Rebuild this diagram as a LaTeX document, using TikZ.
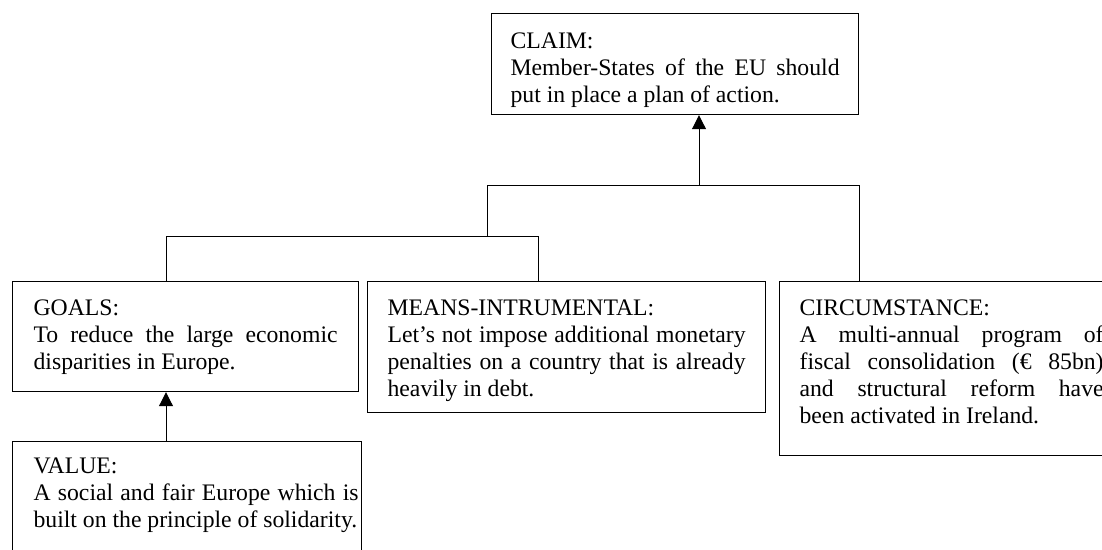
\documentclass[tikz,border=0pt]{standalone}
\usepackage{fontspec}
\setmainfont{Liberation Serif}
\usetikzlibrary{arrows.meta}

% Box body: #1 box width, #2 box height, #3 left padding,
% #4 first baseline below the top edge, #5 text width, #6 lines
\newcommand\panel[6]{%
  \vbox to #2{%
    \hrule height 0pt width #1
    \vskip\dimexpr #4 - 0.7\baselineskip\relax
    \moveright #3\vbox{\hsize=#5\relax\parindent=0pt\parskip=0pt #6}%
    \vfil}}
% a justified line and a line set at its natural width
\newcommand\jline[1]{\noindent\makebox[\hsize][s]{\strut#1}\par}
\newcommand\pline[1]{\noindent\hbox{\strut#1}\par}

\begin{document}
\begin{tikzpicture}[x=1pt, y=-1pt,
  every node/.style={font=\fontsize{23.7}{27}\selectfont},
  panelbox/.style={draw, line width=1.2pt, inner sep=0pt, anchor=north west},
  wire/.style={line width=1pt},
  tip/.style={-{Triangle[length=14pt,width=14pt]}}]
\useasboundingbox (0,0) rectangle (1102,549);

\node[panelbox] (claim) at (491,13) {\panel{367pt}{101pt}{19pt}{35pt}{329pt}{%
  \pline{CLAIM:}
  \jline{Member-States of the EU should}
  \pline{put in place a plan of action.}}};

\node[panelbox] (goals) at (12,281) {\panel{346pt}{110pt}{21pt}{34pt}{304pt}{%
  \pline{GOALS:}
  \jline{To reduce the large economic}
  \pline{disparities in Europe.}}};

\node[panelbox] (means) at (367,281) {\panel{398pt}{131pt}{20pt}{34pt}{358pt}{%
  \pline{MEANS-INTRUMENTAL:}
  \jline{Let’s not impose additional monetary}
  \jline{penalties on a country that is already}
  \pline{heavily in debt.}}};

\node[panelbox] (circ) at (779,281) {\panel{345pt}{174pt}{20pt}{34pt}{304pt}{%
  \pline{CIRCUMSTANCE:}
  \jline{A multi-annual program of}
  \jline{fiscal consolidation (€ 85bn)}
  \jline{and structural reform have}
  \pline{been activated in Ireland.}}};

\node[panelbox] (value) at (12,441) {\panel{349pt}{130pt}{21pt}{32pt}{325pt}{%
  \pline{VALUE:}
  \jline{A social and fair Europe which is}
  \pline{built on the principle of solidarity.}}};

% joints of the connector tree
\coordinate (lowL) at (166,236);
\coordinate (lowR) at (538,236);
\coordinate (topL) at (487,185);
\coordinate (topR) at (859,185);
\coordinate (topC) at (699,185);

\draw[wire] (goals.north -| lowL) -- (lowL) -- (lowR) -- (means.north -| lowR);
\draw[wire] (topL |- lowL) -- (topL) -- (topR) -- (circ.north -| topR);
\draw[wire, tip] (topC) -- (claim.south -| topC);
\draw[wire, tip] (value.north -| lowL) -- (goals.south -| lowL);
\end{tikzpicture}
\end{document}
